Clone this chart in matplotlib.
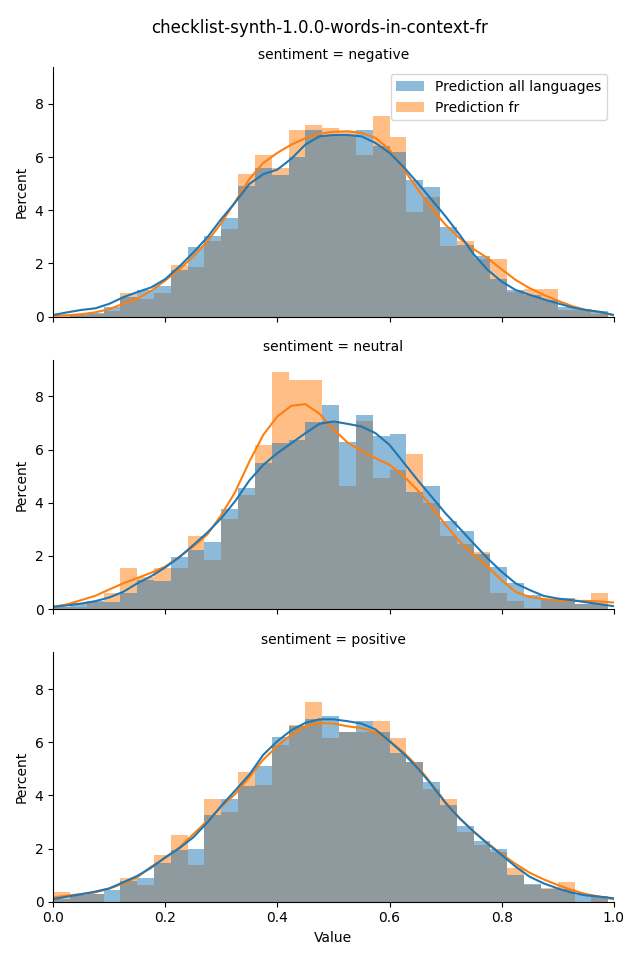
import numpy as np
import matplotlib
matplotlib.use("Agg")
import matplotlib.pyplot as plt

# histogram bins (33 bins of width 0.03)
bin_edges = np.linspace(0, 0.99, 34)

# percent per bin
neg_all = [0.0, 0.05, 0.15, 0.35, 0.75, 1.0, 1.16, 1.76, 2.6, 3.04, 3.72, 4.92, 5.59, 5.31, 6.02, 7.03, 6.83,
           6.83, 7.0, 6.43, 6.19, 5.15, 4.89, 3.38, 2.68, 2.27, 1.42, 1.0, 0.82, 0.63, 0.38, 0.3, 0.21]
neg_fr = [0.05, 0.1, 0.1, 0.2, 0.88, 0.67, 0.9, 1.95, 1.85, 2.85, 3.3, 5.38, 6.09, 5.59, 7.0, 7.21, 7.11,
          6.98, 6.09, 7.56, 6.77, 3.92, 4.48, 2.64, 2.85, 2.16, 2.17, 0.92, 1.03, 1.03, 0.23, 0.25, 0.09]

neu_all = [0.1, 0.24, 0.3, 0.28, 0.6, 1.1, 1.07, 1.96, 2.22, 2.52, 3.77, 4.56, 5.5, 6.26, 6.35, 7.05, 7.69,
           6.29, 7.31, 6.52, 6.6, 4.41, 4.64, 3.32, 2.94, 2.07, 1.58, 0.98, 0.53, 0.4, 0.41, 0.2, 0.19]
neu_fr = [0.08, 0.1, 0.28, 0.6, 1.55, 1.2, 1.55, 1.55, 2.75, 1.85, 3.4, 4.3, 6.18, 8.93, 8.63, 8.63, 7.06,
          4.64, 7.09, 4.94, 5.24, 5.84, 4.0, 2.75, 2.45, 2.15, 0.6, 0.3, 0.03, 0.38, 0.38, 0.2, 0.6]

pos_all = [0.1, 0.25, 0.3, 0.44, 0.77, 0.89, 1.47, 1.95, 1.99, 3.25, 3.86, 4.34, 5.12, 6.18, 6.6, 6.89, 6.97,
           6.4, 6.78, 6.4, 5.58, 5.27, 4.52, 3.65, 2.86, 2.29, 1.97, 1.0, 0.66, 0.47, 0.47, 0.25, 0.2]
pos_fr = [0.35, 0.25, 0.28, 0.0, 0.88, 0.63, 1.75, 2.52, 1.38, 3.86, 3.38, 4.89, 4.4, 5.91, 6.66, 7.53, 6.14,
          6.38, 6.4, 6.78, 6.14, 5.25, 4.25, 3.86, 2.63, 2.15, 1.87, 1.27, 0.62, 0.5, 0.74, 0.0, 0.17]

# kde curves, read every 0.025
kde_x = np.linspace(0, 1, 41)
neg_kde_all = [0.06, 0.16, 0.25, 0.31, 0.48, 0.73, 0.92, 1.1, 1.41, 1.88, 2.41, 2.98, 3.67, 4.3, 4.99,
               5.36, 5.53, 5.94, 6.47, 6.78, 6.83,
               6.83, 6.78, 6.53, 6.16, 5.63, 5.03, 4.4, 3.77, 3.08, 2.35, 1.76, 1.32, 1.0, 0.82, 0.65,
               0.5, 0.35, 0.25, 0.18, 0.06]
neg_kde_fr = [0.03, 0.05, 0.09, 0.16, 0.28, 0.48, 0.67, 0.97, 1.36, 1.78, 2.26, 2.83, 3.52, 4.33, 5.18,
              5.78, 6.16, 6.47, 6.71, 6.88, 6.95,
              6.97, 6.91, 6.72, 6.28, 5.55, 4.8, 4.08, 3.45, 2.95, 2.54, 2.2, 1.78, 1.38, 1.07, 0.82,
              0.6, 0.4, 0.25, 0.16, 0.05]
neu_kde_all = [0.09, 0.14, 0.21, 0.3, 0.44, 0.65, 0.97, 1.24, 1.57, 1.95, 2.41, 2.88, 3.42, 4.07, 4.84,
               5.43, 5.87, 6.24, 6.62, 6.97, 7.06,
               6.97, 6.87, 6.62, 6.18, 5.52, 4.86, 4.23, 3.6, 3.04, 2.47, 1.91, 1.41, 0.97, 0.72, 0.5,
               0.4, 0.34, 0.26, 0.19, 0.11]
neu_kde_fr = [0.09, 0.18, 0.34, 0.5, 0.74, 0.97, 1.17, 1.37, 1.6, 1.97, 2.35, 2.81, 3.54, 4.42, 5.55,
              6.56, 7.25, 7.65, 7.71, 7.35, 6.77,
              6.27, 5.95, 5.68, 5.43, 5.01, 4.48, 3.86, 3.17, 2.55, 2.04, 1.6, 1.09, 0.65, 0.46, 0.38,
              0.34, 0.31, 0.31, 0.29, 0.25]
pos_kde_all = [0.1, 0.19, 0.28, 0.38, 0.5, 0.73, 0.97, 1.28, 1.67, 2.01, 2.42, 2.98, 3.61, 4.19, 4.78,
               5.53, 6.04, 6.45, 6.73, 6.86, 6.86,
               6.79, 6.7, 6.48, 6.04, 5.57, 5.03, 4.4, 3.71, 3.14, 2.64, 2.18, 1.76, 1.32, 0.94, 0.69,
               0.5, 0.34, 0.24, 0.19, 0.13]
pos_kde_fr = [0.16, 0.23, 0.29, 0.35, 0.49, 0.69, 0.92, 1.32, 1.64, 2.04, 2.54, 3.04, 3.56, 4.06, 4.69,
              5.35, 5.85, 6.29, 6.58, 6.72, 6.7,
              6.6, 6.53, 6.38, 6.04, 5.62, 5.09, 4.44, 3.74, 3.14, 2.64, 2.2, 1.79, 1.42, 1.09, 0.84,
              0.63, 0.44, 0.29, 0.19, 0.09]

sentiments = ["negative", "neutral", "positive"]
hist_all = [neg_all, neu_all, pos_all]
hist_fr = [neg_fr, neu_fr, pos_fr]
kde_all = [neg_kde_all, neu_kde_all, pos_kde_all]
kde_fr = [neg_kde_fr, neu_kde_fr, pos_kde_fr]

blue = "#1f77b4"
orange = "#ff7f0e"

fig, axes = plt.subplots(3, 1, figsize=(6.4, 9.6), dpi=100, sharex=True, sharey=True)
fig.subplots_adjust(left=0.083, right=0.959, top=0.930, bottom=0.0607, hspace=0.173)

for i, ax in enumerate(axes):
    ax.stairs(hist_fr[i], bin_edges, fill=True, color=orange, alpha=0.5, linewidth=0,
              label="Prediction fr")
    ax.stairs(hist_all[i], bin_edges, fill=True, color=blue, alpha=0.5, linewidth=0,
              label="Prediction all languages")
    ax.plot(kde_x, kde_fr[i], color=orange, linewidth=1.5)
    ax.plot(kde_x, kde_all[i], color=blue, linewidth=1.5)
    ax.set_title(f"sentiment = {sentiments[i]}", fontsize=10)
    ax.set_ylabel("Percent")
    ax.spines["top"].set_visible(False)
    ax.spines["right"].set_visible(False)
    ax.tick_params(labelbottom=(i == 2))

axes[0].set_xlim(0, 1)
axes[0].set_ylim(0, 9.38)
axes[0].set_yticks([0, 2, 4, 6, 8])
axes[2].set_xlabel("Value")

handles, labels = axes[0].get_legend_handles_labels()
axes[0].legend(handles[::-1], labels[::-1], loc="upper right")

fig.suptitle("checklist-synth-1.0.0-words-in-context-fr", y=0.98, fontsize=12)

fig.savefig("out.png", dpi=100)
